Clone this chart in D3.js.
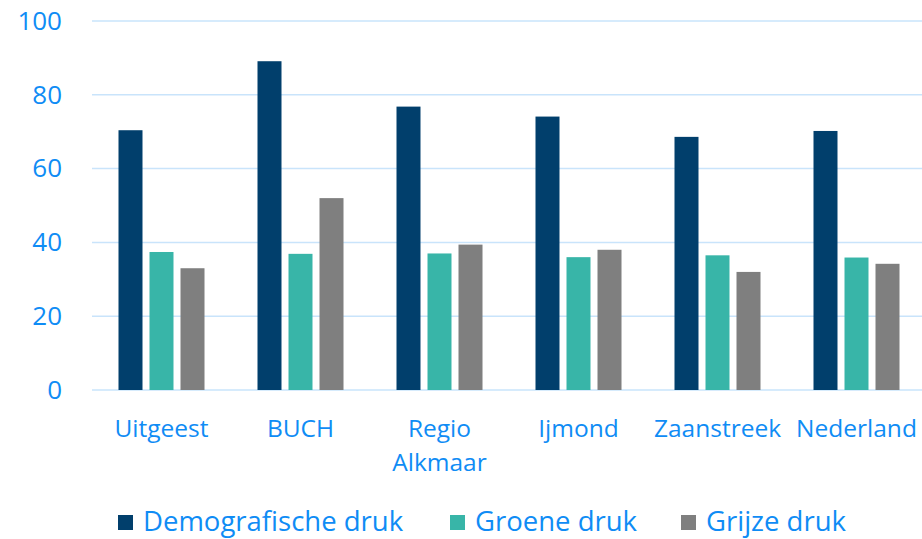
<!DOCTYPE html>
<html>
<head>
<meta charset="utf-8">
<script src="https://cdn.jsdelivr.net/npm/d3@7"></script>
<style>
  body { margin: 0; background: #fff; }
  text { font-family: "Open Sans", "Noto Sans", sans-serif; fill: #0f8cf5; }
</style>
</head>
<body>
<div id="chart"></div>
<script>
const regions = ["Uitgeest", "BUCH", "Regio Alkmaar", "Ijmond", "Zaanstreek", "Nederland"];
const seriesNames = ["Demografische druk", "Groene druk", "Grijze druk"];
const demografisch = [70.4, 89.1, 76.8, 74.1, 68.6, 70.2];
const groen = [37.4, 36.9, 37.0, 36.0, 36.5, 35.9];
const grijs = [33.0, 52.0, 39.4, 38.0, 32.0, 34.2];
const yTicks = [0, 20, 40, 60, 80, 100];
const colors = ["#013f6c", "#38b5a8", "#7f7f7f"];

const W = 922, H = 539;
const margin = ({top: 21, right: -4, bottom: 149, left: 92});
const width = W - margin.left - margin.right,
      height = H - margin.top - margin.bottom;

const svg = d3.select("#chart").append("svg")
              .attr("width", W).attr("height", H);
const g = svg.append("g")
             .attr("transform", `translate(${margin.left},${margin.top})`);

const xScale = d3.scaleBand().domain(regions).range([0, width]);
const inner = d3.scaleBand().domain(seriesNames)
                .range([xScale.bandwidth() / 2 - 43, xScale.bandwidth() / 2 + 43])
                .paddingInner(0.226);
const yScale = d3.scaleLinear().domain([0, 100]).range([height, 0]);

// gridlines
g.selectAll("line.grid").data(yTicks).enter().append("line")
 .attr("x1", 0).attr("x2", width)
 .attr("y1", d => yScale(d)).attr("y2", d => yScale(d))
 .attr("stroke", "#c9e4fb").attr("stroke-width", 1.5);

// y axis labels
const yAxis = d3.axisLeft(yScale).tickValues(yTicks).tickSize(0).tickPadding(30);
const yG = g.append("g").call(yAxis);
yG.select(".domain").remove();
yG.selectAll("text").style("font-size", "26px").attr("fill", "#0f8cf5");

// bars
const table = regions.map((r, i) => ({region: r, values: [demografisch[i], groen[i], grijs[i]]}));
const groups = g.selectAll("g.grp").data(table).enter().append("g")
                .attr("transform", d => `translate(${xScale(d.region)},0)`);
groups.selectAll("rect").data(d => d.values.map((v, j) => ({key: seriesNames[j], v, j})))
      .enter().append("rect")
      .attr("x", d => inner(d.key))
      .attr("width", inner.bandwidth())
      .attr("y", d => yScale(d.v))
      .attr("height", d => height - yScale(d.v))
      .attr("fill", d => colors[d.j]);

// x labels
const xl = g.append("g").attr("transform", `translate(0,${height})`);
regions.forEach(r => {
  const t = xl.append("text")
    .attr("x", xScale(r) + xScale.bandwidth() / 2)
    .attr("y", 47)
    .attr("text-anchor", "middle")
    .style("font-size", "24.5px");
  r.split(" ").forEach((w, i) => {
    t.append("tspan").attr("x", xScale(r) + xScale.bandwidth() / 2)
     .attr("dy", i === 0 ? 0 : 34).text(w);
  });
});

// legend
const legendX = [118, 450, 681];
const leg = svg.append("g");
seriesNames.forEach((s, i) => {
  leg.append("rect").attr("x", legendX[i]).attr("y", 515)
     .attr("width", 15).attr("height", 15).attr("fill", colors[i]);
  leg.append("text").attr("x", legendX[i] + 25).attr("y", 531)
     .style("font-size", "27.5px").text(s);
});
</script>
</body>
</html>
